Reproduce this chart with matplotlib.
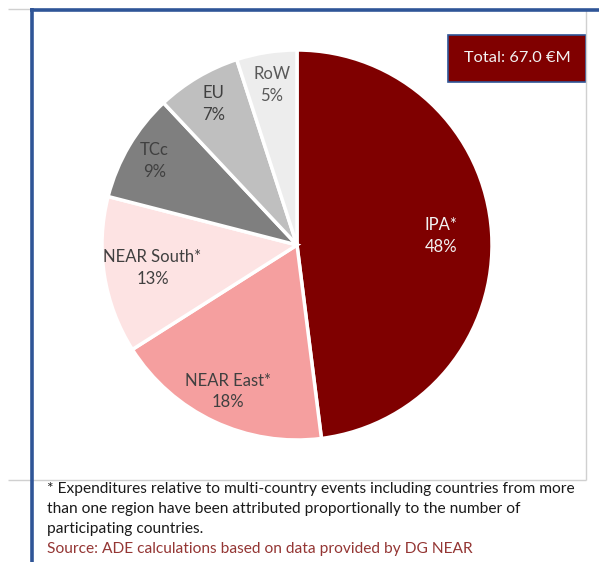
import matplotlib
matplotlib.use("Agg")
import matplotlib.pyplot as plt
from matplotlib.lines import Line2D
from matplotlib.patches import Rectangle
import numpy as np

categories = ["IPA*", "NEAR East*", "NEAR South*", "TCc", "EU", "RoW"]
shares = [48, 18, 13, 9, 7, 5]
colors = ["#7f0000", "#f59f9f", "#fde3e3", "#7f7f7f", "#bfbfbf", "#ededed"]
text_colors = ["#f2f2f2", "#404040", "#404040", "#404040", "#404040", "#595959"]
label_dist = [0.74, 0.83, 0.75, 0.85, 0.84, 0.83]
total_label = "Total: 67.0 €M"
footnote_lines = ["* Expenditures relative to multi-country events including countries from more",
                  "than one region have been attributed proportionally to the number of",
                  "participating countries."]
source = "Source: ADE calculations based on data provided by DG NEAR"

W, H = 599, 562
fig = plt.figure(figsize=(W / 100, H / 100), dpi=100)
plt.rcParams['font.family'] = ['Lato', 'DejaVu Sans']

cx, cy, R = 297, 245, 195
ax = fig.add_axes([(cx - R) / W, (H - cy - R) / H, 2 * R / W, 2 * R / H])
wedges, _ = ax.pie(shares, colors=colors, startangle=90, counterclock=False,
                   radius=1, wedgeprops=dict(edgecolor="white", linewidth=2.5))
ax.set_xlim(-1, 1)
ax.set_ylim(-1, 1)
ax.set_aspect("equal")
ax.axis("off")

for w, cat, val, tc, d in zip(wedges, categories, shares, text_colors, label_dist):
    ang = np.deg2rad((w.theta1 + w.theta2) / 2)
    ax.text(d * np.cos(ang), d * np.sin(ang), f"{cat}\n{val}%", ha="center", va="center",
            fontsize=12, color=tc, linespacing=1.45)

# frame lines (figure pixel coords)
def px_line(x0, y0, x1, y1, color, lw):
    fig.add_artist(Line2D([x0 / W, x1 / W], [1 - y0 / H, 1 - y1 / H], color=color,
                          linewidth=lw, transform=fig.transFigure, solid_capstyle="butt"))

px_line(8, 8.5, 31, 8.5, "#d0d0d0", 1)
px_line(586, 10, 586, 480, "#d0d0d0", 1)
px_line(8, 480, 586, 480, "#d0d0d0", 1)
px_line(31.5, 8, 31.5, 562, "#2f5597", 2.6)
px_line(30, 9.5, 599, 9.5, "#2f5597", 2.6)

# total box
bx0, by0, bx1, by1 = 448, 35, 586, 82
fig.add_artist(Rectangle((bx0 / W, 1 - by1 / H), (bx1 - bx0) / W, (by1 - by0) / H,
                         facecolor="#800000", edgecolor="#2f5597", linewidth=1.2,
                         transform=fig.transFigure))
fig.text((bx0 + bx1) / 2 / W, 1 - (by0 + by1) / 2 / H, total_label, ha="center", va="center",
         fontsize=11.8, color="#f2f2f2")

for i, line in enumerate(footnote_lines):
    fig.text(47 / W, 1 - (489 + 20 * i) / H, line, ha="left", va="center", fontsize=11.2,
             color="#1a1a1a")
fig.text(47 / W, 1 - 549 / H, source, ha="left", va="center", fontsize=11.2, color="#943634")

fig.savefig("out.png", dpi=100)
